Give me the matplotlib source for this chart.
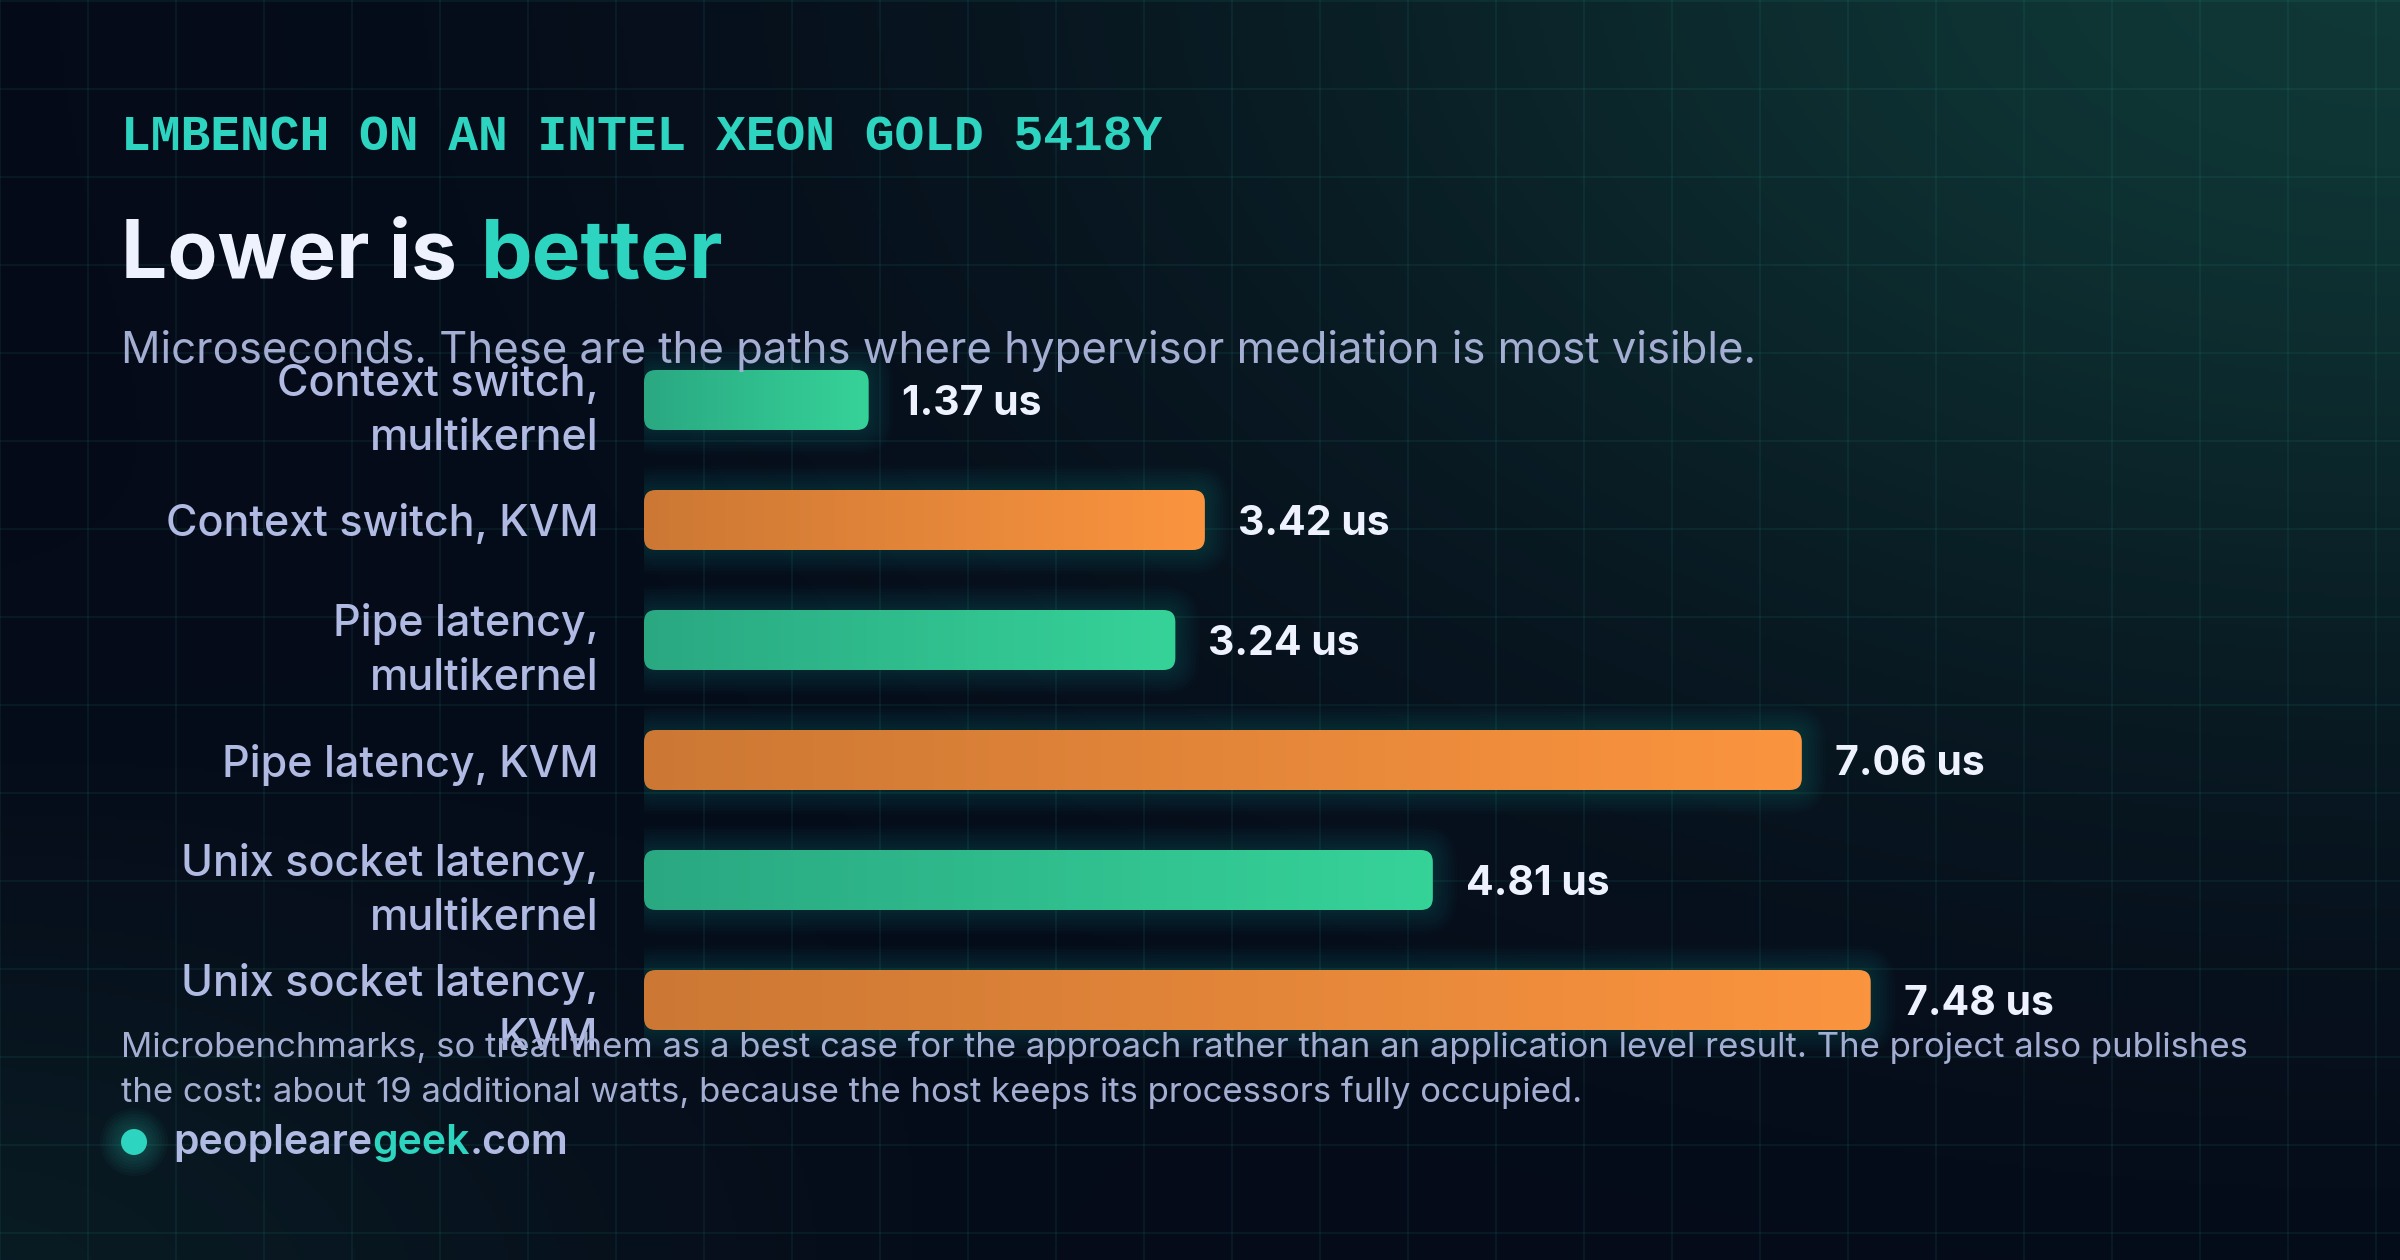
import numpy as np
import matplotlib
matplotlib.use("Agg")
import matplotlib.pyplot as plt
from matplotlib.patches import FancyBboxPatch, Circle
from matplotlib.colors import LinearSegmentedColormap

# data
categories = [
    "Context switch,\nmultikernel",
    "Context switch, KVM",
    "Pipe latency,\nmultikernel",
    "Pipe latency, KVM",
    "Unix socket latency,\nmultikernel",
    "Unix socket latency,\nKVM",
]
latency_us = [1.37, 3.42, 3.24, 7.06, 4.81, 7.48]
systems = ["multikernel", "KVM", "multikernel", "KVM", "multikernel", "KVM"]

kicker = "LMBENCH ON AN INTEL XEON GOLD 5418Y"
subtitle = "Microseconds. These are the paths where hypervisor mediation is most visible."
footnote = [
    "Microbenchmarks, so treat them as a best case for the approach rather than an application level result. The project also publishes",
    "the cost: about 19 additional watts, because the host keeps its processors fully occupied.",
]

# style
W, H, DPI = 2400, 1260, 100
BG = "#050a18"
TEAL = "#2dd4bf"
WHITE = "#eef2ff"
LABEL = "#b0bae2"
MUTED = "#a4aed3"
ramps = {
    "multikernel": LinearSegmentedColormap.from_list("mk", ["#2aa882", "#36d399"]),
    "KVM": LinearSegmentedColormap.from_list("kvm", ["#cc7834", "#fb943f"]),
}
plt.rcParams["font.family"] = ["Inter", "DejaVu Sans"]

fig = plt.figure(figsize=(W / DPI, H / DPI), dpi=DPI, facecolor=BG)

# background: glow + grid, in pixel coordinates
bg = fig.add_axes([0, 0, 1, 1])
bg.set_xlim(0, W)
bg.set_ylim(H, 0)
bg.axis("off")
yy, xx = np.mgrid[0:H:4, 0:W:4]
base = np.array([5, 10, 24]) / 255
glow_tr = np.exp(-(((xx - 2400) / 1200) ** 2 + ((yy + 50) / 750) ** 2))
glow_bl = np.exp(-(((xx + 50) / 700) ** 2 + ((yy - 1300) / 400) ** 2))
teal_glow = np.array([16, 58, 56]) / 255 - base
img = base + (0.95 * glow_tr + 0.35 * glow_bl)[..., None] * teal_glow
bg.imshow(np.clip(img, 0, 1), extent=(0, W, H, 0), aspect="auto", zorder=0)
for gx in range(0, W + 1, 88):
    bg.axvline(gx, color=TEAL, alpha=0.07, lw=1.4, zorder=1)
for gy in range(1, H + 1, 88):
    bg.axhline(gy, color=TEAL, alpha=0.07, lw=1.4, zorder=1)

# header
fig.text(121 / W, 1 - 150 / H, kicker, family="Liberation Mono", fontweight="bold",
         fontsize=35.7, color=TEAL, va="baseline")
t = fig.text(121 / W, 1 - 278 / H, "Lower is", fontsize=59, fontweight="bold",
             color=WHITE, va="baseline")
bg.annotate("better", xy=(1, 0), xycoords=t, xytext=(24, 0), textcoords="offset pixels",
            fontsize=59, fontweight="bold", color=TEAL, va="bottom", ha="left")
fig.text(121 / W, 1 - 363 / H, subtitle, fontsize=31.5, color=MUTED, va="baseline")

# bars axes: 0 at x=644px, 164px per microsecond, rows 120px apart
px_per_unit, row_px = 164, 120
ax_left, ax_right = 644, 2240
ax = fig.add_axes([ax_left / W, 1 - 1060 / H, (ax_right - ax_left) / W, 720 / H])
ax.patch.set_alpha(0)
xmax = (ax_right - ax_left) / px_per_unit
aspect = px_per_unit / row_px
bar_h = 0.5
radius = 12 / px_per_unit

for i, (v, s) in enumerate(zip(latency_us, systems)):
    y0 = i - bar_h / 2
    for k in range(1, 9):
        ax.add_patch(FancyBboxPatch((0, y0), v, bar_h,
                                    boxstyle=f"round,pad={k * 3 / px_per_unit},rounding_size={radius + k * 3 / px_per_unit}",
                                    mutation_aspect=aspect, fc=TEAL, ec="none", alpha=0.018, zorder=1))
    clip = FancyBboxPatch((0, y0), v, bar_h, boxstyle=f"round,pad=0,rounding_size={radius}",
                          mutation_aspect=aspect, fc="none", ec="none", zorder=2)
    ax.add_patch(clip)
    im = ax.imshow(np.linspace(0, 1, 256)[None, :], cmap=ramps[s], aspect="auto",
                   extent=(0, v, y0 + bar_h, y0), zorder=2, interpolation="bilinear")
    im.set_clip_path(clip)
    ax.annotate(f"{v:.2f} us", xy=(v, i), xytext=(33, -4), textcoords="offset pixels",
                fontsize=29.5, fontweight="bold", color=WHITE, va="center", ha="left", zorder=3)

ax.set_xlim(0, xmax)
ax.set_ylim(len(categories) - 0.5, -0.5)
ax.set_xticks([])
ax.set_yticks(range(len(categories)))
ax.set_yticklabels(categories, fontsize=31, color=LABEL, fontweight="medium",
                   linespacing=1.42, multialignment="right")
ax.tick_params(axis="y", length=0, pad=33)
for sp in ax.spines.values():
    sp.set_visible(False)

# footer
fig.text(121 / W, 1 - 1057 / H, footnote[0], fontsize=25, color=MUTED, va="baseline")
fig.text(121 / W, 1 - 1102 / H, footnote[1], fontsize=25, color=MUTED, va="baseline")

for k in range(1, 8):
    bg.add_patch(Circle((134, 1142), 13 + k * 3, color=TEAL, alpha=0.035, lw=0, zorder=3))
bg.add_patch(Circle((134, 1142), 13, color=TEAL, lw=0, zorder=4))
b1 = bg.text(173, 1154, "peopleare", fontsize=29.5, fontweight="semibold", color=LABEL,
             va="baseline", ha="left", zorder=4)
b2 = bg.annotate("geek", xy=(1, 0), xycoords=b1, fontsize=29.5, fontweight="semibold",
                 color=TEAL, va="bottom", ha="left", zorder=4)
bg.annotate(".com", xy=(1, 0), xycoords=b2, fontsize=29.5, fontweight="semibold",
            color=LABEL, va="bottom", ha="left", zorder=4)

fig.savefig("out.png", dpi=DPI, facecolor=BG)
